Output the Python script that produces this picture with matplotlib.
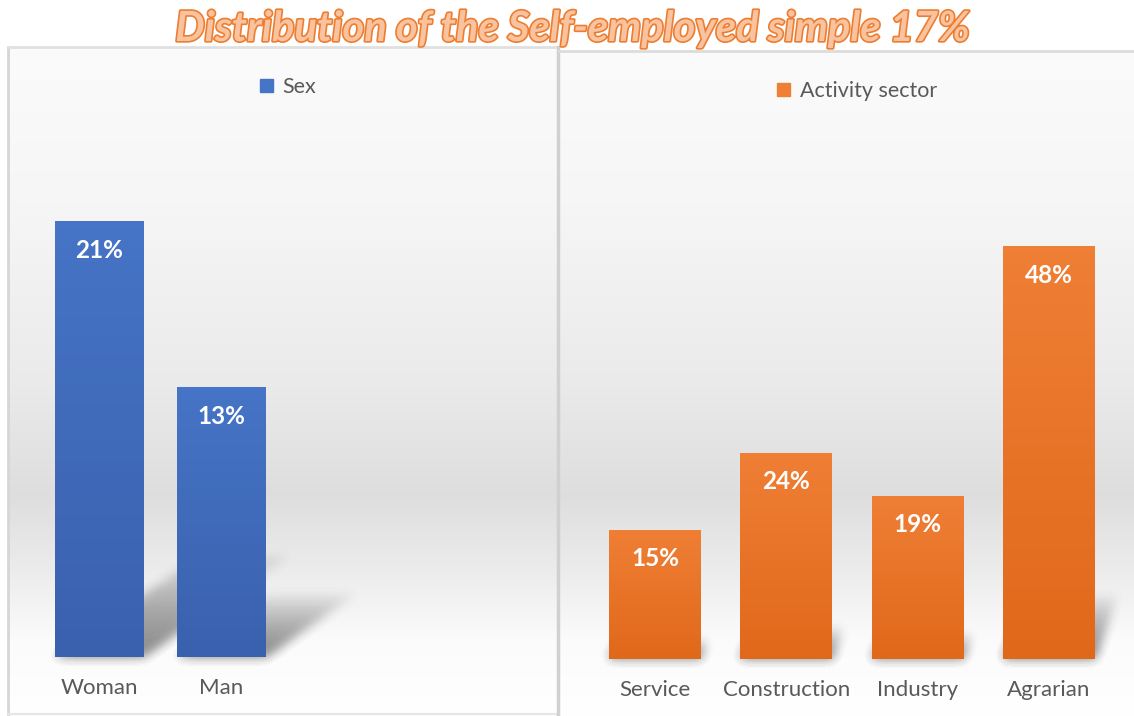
import numpy as np
import matplotlib
matplotlib.use("Agg")
import matplotlib.pyplot as plt
from matplotlib.patches import Rectangle, Polygon
import matplotlib.patheffects as pe

plt.rcParams['font.family'] = ['Lato', 'DejaVu Sans']

W, H = 1134, 716

title = "Distribution of the Self-employed simple 17%"

sex_labels = ["Woman", "Man"]
sex_values = [21, 13]

sector_labels = ["Service", "Construction", "Industry", "Agrarian"]
sector_values = [15, 24, 19, 48]

BLUE_TOP, BLUE_BOT = "#4674c6", "#3a61ae"
ORANGE_TOP, ORANGE_BOT = "#ef7f35", "#e0681b"
TEXT_GRAY = "#595959"


def px_box(x0, y0, x1, y1):
    # pixel rectangle (top-left origin) -> figure fraction
    return [x0 / W, (H - y1) / H, (x1 - x0) / W, (y1 - y0) / H]


def blur_filter(sigma, alpha, color=(0.25, 0.25, 0.25)):
    r = int(3 * sigma)
    k = np.exp(-0.5 * (np.arange(-r, r + 1) / sigma) ** 2)
    k /= k.sum()

    def f(im, dpi):
        a = np.pad(im[:, :, 3], r)
        out_a = np.zeros_like(a)
        for i, w in enumerate(k):
            out_a += w * np.roll(a, i - r, axis=0)
        a2 = np.zeros_like(out_a)
        for i, w in enumerate(k):
            a2 += w * np.roll(out_a, i - r, axis=1)
        out = np.zeros(a.shape + (4,))
        out[:, :, :3] = color
        out[:, :, 3] = np.clip(a2 * alpha, 0, 1)
        return out, -r, -r
    return f


fig = plt.figure(figsize=(W / 100, H / 100), dpi=100)
fig.patch.set_facecolor("white")

# background panels with a soft vertical gradient
bg = fig.add_axes([0, 0, 1, 1])
bg.set_xlim(0, W)
bg.set_ylim(H, 0)
bg.axis("off")

stop_y = [45, 200, 380, 495, 570, 640, 716]
stop_v = [0.985, 0.965, 0.92, 0.87, 0.925, 0.985, 1.0]
for x0, y0, x1 in [(8, 47, 557), (559, 51, 1134)]:
    ys = np.arange(y0, H)
    g = np.interp(ys, stop_y, stop_v)
    img = np.repeat(g[:, None, None], 3, axis=2)
    bg.imshow(img, extent=(x0, x1, H, y0), aspect="auto", interpolation="bilinear", zorder=0)
bg.set_xlim(0, W)
bg.set_ylim(H, 0)
bg.add_line(plt.Line2D([8, 8], [47, 714], color="#d6d6d6", lw=2))
bg.add_line(plt.Line2D([8, 557], [47, 47], color="#e0e0e0", lw=2))
bg.add_line(plt.Line2D([8, 557], [714, 714], color="#e6e6e6", lw=1.5))
bg.add_line(plt.Line2D([558, 558], [47, 716], color="#d0d0d0", lw=2.5))
bg.add_line(plt.Line2D([559, 1134], [51, 51], color="#dcdcdc", lw=2))

fig.text(572 / W, 1 - 29 / H, title, ha="center", va="center", fontsize=30,
         fontweight="bold", fontstyle="italic", color="#f8c39e",
         path_effects=[pe.withStroke(linewidth=2.4, foreground="#ed7d31")])


def draw_panel(rect, labels, values, xlim, ylim, width, top, bot, shear, legend_xy, legend_name):
    ax = fig.add_axes(rect)
    ax.patch.set_visible(False)
    x = np.arange(len(values))
    bars = ax.bar(x, values, width=width, color=top, zorder=3, label=legend_name)

    grad = np.linspace(0, 1, 64)[:, None]
    c_top = np.array(matplotlib.colors.to_rgb(top))
    c_bot = np.array(matplotlib.colors.to_rgb(bot))
    for b, v, xi in zip(bars, values, x):
        img = c_top * (1 - grad[:, :, None]) + c_bot * grad[:, :, None]
        im = ax.imshow(img, extent=(b.get_x(), b.get_x() + b.get_width(), 0, v),
                       origin="upper", aspect="auto", zorder=3.5)
        im.set_clip_path(b)
        # soft cast shadow behind each bar
        sx, sy = shear
        for f in np.linspace(0.2, 1.0, 6):
            dx, dy = sx * v * f, sy * v * f
            x0, x1 = b.get_x(), b.get_x() + b.get_width()
            poly = Polygon([(x0, 0), (x1, 0), (x1 + dx, dy), (x0 + dx, dy)],
                           closed=True, facecolor="k", edgecolor="none", zorder=2)
            poly.set_agg_filter(blur_filter(5, 0.13))
            ax.add_patch(poly)
        ax.annotate(f"{v}%", (xi, v), xytext=(0, -29), textcoords="offset pixels",
                    ha="center", va="center", color="white", fontsize=17.5,
                    fontweight="bold", zorder=5)

    ax.set_xlim(*xlim)
    ax.set_ylim(*ylim)
    ax.set_xticks(x, labels)
    ax.set_yticks([])
    ax.tick_params(axis="x", length=0, pad=15, labelsize=16, labelcolor=TEXT_GRAY)
    for s in ax.spines.values():
        s.set_visible(False)
    ax.legend(handles=[Rectangle((0, 0), 1, 1, color=top)], labels=[legend_name],
              loc="center", bbox_to_anchor=(legend_xy[0] / W, 1 - legend_xy[1] / H),
              bbox_transform=fig.transFigure, frameon=False, fontsize=15.5,
              handlelength=0.6, handleheight=0.6, handletextpad=0.45,
              labelcolor=TEXT_GRAY)
    return ax


draw_panel(px_box(10, 48, 556, 657), sex_labels, sex_values,
           ((10 - 99) / 122.5, (556 - 99) / 122.5), (0, (657 - 48) / 20.75),
           0.72, BLUE_TOP, BLUE_BOT, (0.056, 0.23), (288, 87), "Sex")

draw_panel(px_box(560, 52, 1132, 659), sector_labels, sector_values,
           ((560 - 655) / 131.3, (1132 - 655) / 131.3), (0, (659 - 52) / 8.6),
           0.70, ORANGE_TOP, ORANGE_BOT, (0.0035, 0.15), (857, 91), "Activity sector")

fig.savefig("out.png", dpi=100)
